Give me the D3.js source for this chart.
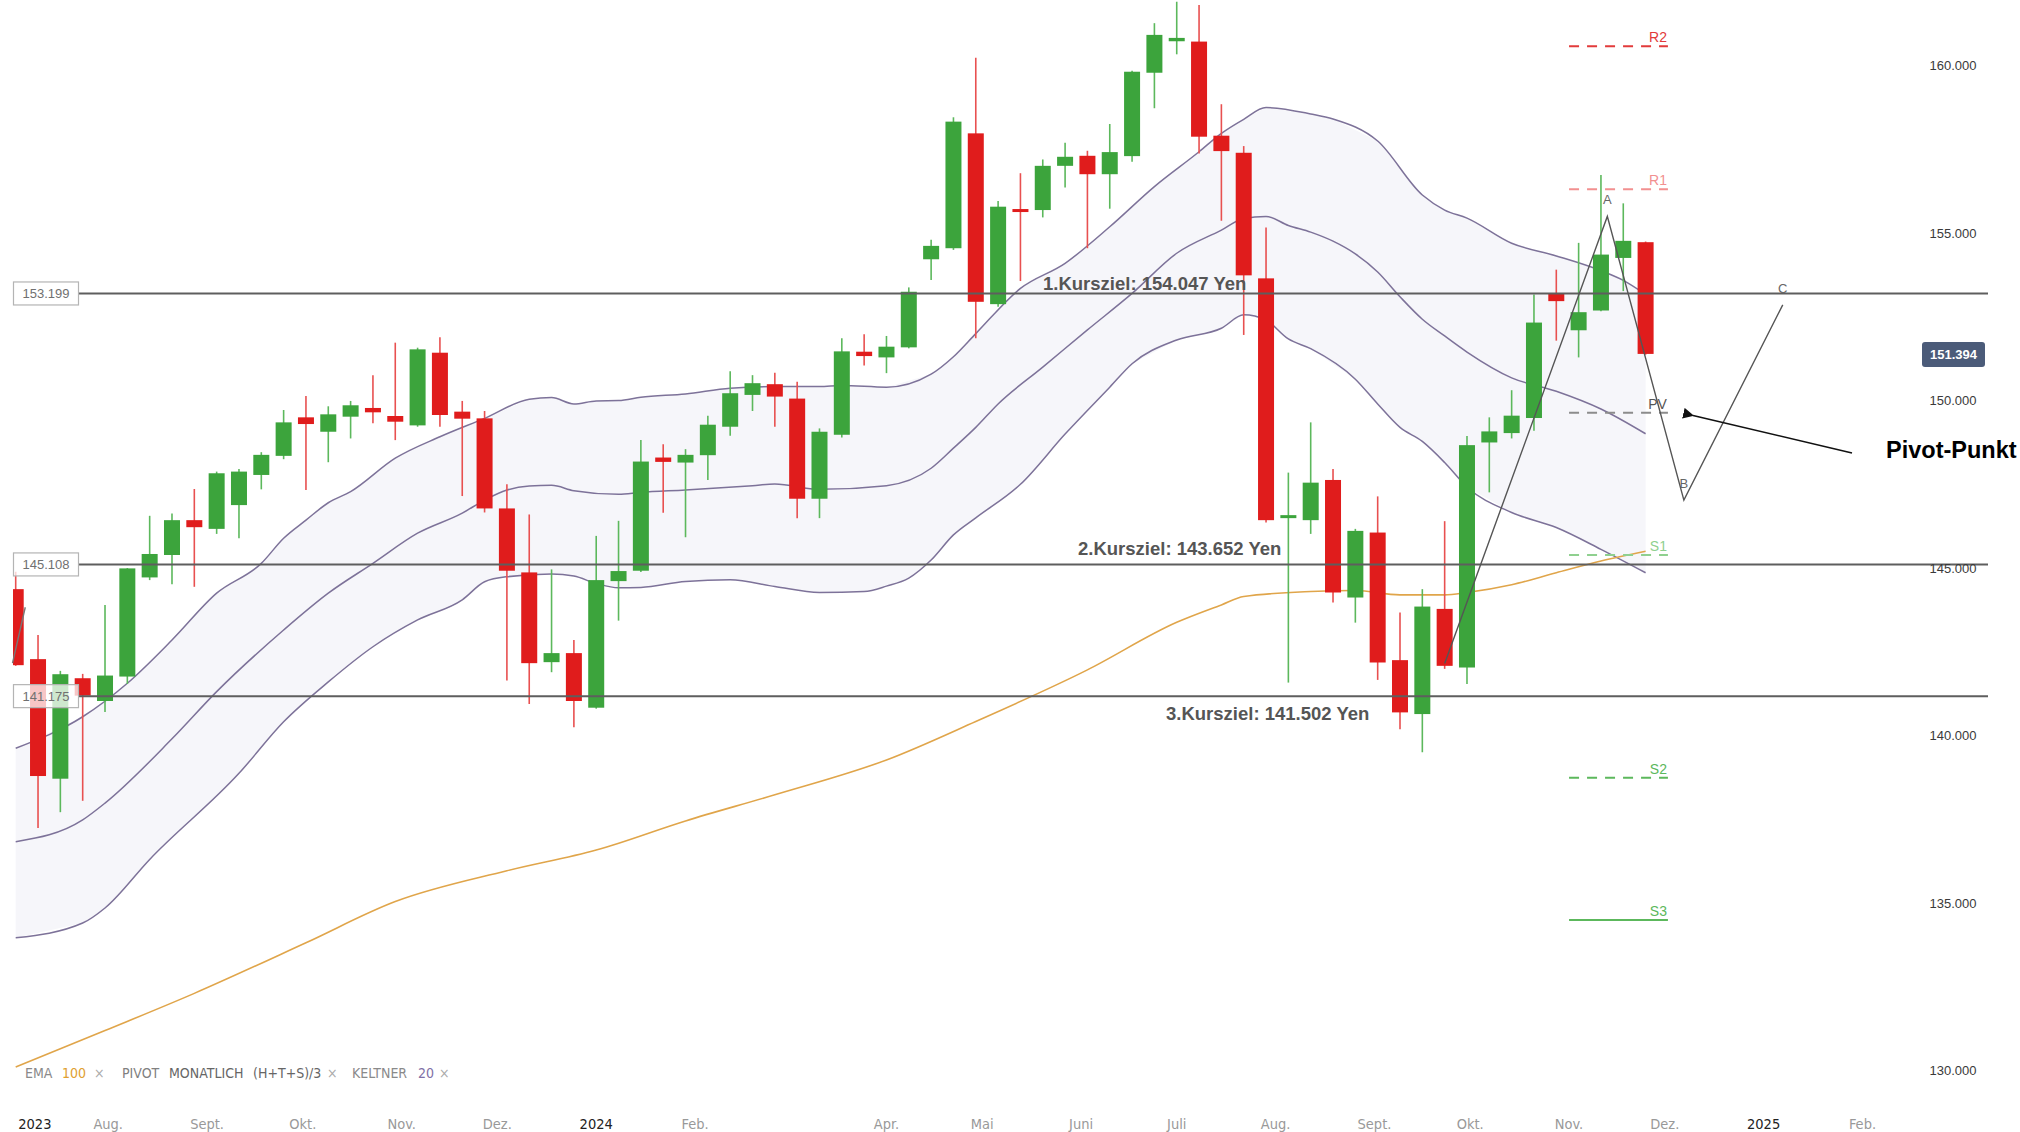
<!DOCTYPE html>
<html>
<head>
<meta charset="utf-8">
<script src="https://cdn.jsdelivr.net/npm/d3@7"></script>
<style>
  body { margin: 0; background: #fff; }
  svg { display: block; font-family: "Liberation Sans", Arial, sans-serif; }
  .narrow { font-family: "Liberation Sans Narrow", "DejaVu Sans Condensed", "Liberation Sans", sans-serif; }
</style>
</head>
<body>
<div id="chart"></div>
<script>
const width = 2020;
const height = 1132;

// Weekly USD/JPY candles, one per Monday from 3 Jul 2023 to 25 Nov 2024
const firstWeek = "2023-07-03";
const lastWeek = "2024-11-25";
const opens = [144.37,142.28,138.71,141.71,141.03,141.76,144.72,145.39,146.43,146.17,
  146.88,147.78,148.35,149.50,149.07,149.52,149.78,149.54,149.26,151.43,
  149.67,149.47,146.78,144.87,142.19,142.46,140.83,144.61,144.92,148.30,
  148.15,148.37,149.22,150.17,150.49,150.06,147.07,148.98,151.46,151.29,
  151.59,154.22,154.55,157.98,152.88,155.72,155.69,157.01,157.31,156.76,
  157.30,159.79,160.73,160.72,157.91,157.40,153.65,146.50,146.43,147.63,
  144.12,146.06,142.25,140.64,143.78,142.03,148.75,149.03,149.48,153.21,
  152.10,152.69,154.26,154.73];
const highs = [144.89,143.00,141.93,141.84,143.90,145.00,146.56,146.63,147.36,147.88,
  147.96,148.46,149.72,150.14,149.83,149.99,150.76,151.73,151.58,151.89,
  149.99,149.69,147.50,146.60,144.96,142.85,145.96,146.41,148.82,148.70,
  148.55,149.55,150.88,150.76,150.83,150.56,149.17,151.86,151.98,151.93,
  153.38,154.80,158.46,160.24,155.96,156.79,157.20,157.70,157.46,158.26,
  159.85,161.27,161.91,161.81,158.85,157.60,155.17,147.85,149.35,147.96,
  146.17,147.14,143.67,144.37,146.40,148.94,149.50,150.31,153.17,153.91,
  154.71,156.74,155.89,154.75];
const lows = [142.08,137.24,137.71,138.05,140.70,141.54,144.64,144.52,144.44,146.02,
  145.89,147.35,148.25,147.33,148.16,148.87,149.32,148.82,149.22,149.22,
  147.15,146.66,141.64,140.94,141.89,140.25,140.80,143.43,144.88,146.65,
  145.92,147.63,148.95,149.69,149.22,146.49,146.49,148.90,151.05,150.82,
  151.56,153.60,154.50,151.86,152.80,153.57,155.47,156.36,154.55,155.73,
  157.13,158.73,160.34,157.38,155.37,151.96,146.36,141.58,146.02,143.97,
  143.37,141.66,140.19,139.50,141.99,141.54,147.26,148.87,149.10,151.79,
  151.29,152.67,153.27,151.37];
const closes = [142.10,138.79,141.83,141.19,141.79,144.99,145.42,146.43,146.22,147.83,
  147.88,148.38,149.35,149.30,149.59,149.86,149.65,149.37,151.53,149.57,
  149.46,146.78,144.92,142.16,142.46,141.03,144.64,144.91,148.18,148.17,
  148.38,149.28,150.22,150.52,150.12,147.07,149.07,151.47,151.33,151.61,
  153.25,154.62,158.33,152.95,155.79,155.65,157.01,157.28,156.76,157.42,
  159.82,160.92,160.83,157.88,157.45,153.74,146.43,146.58,147.55,144.27,
  146.11,142.18,140.69,143.85,142.08,148.67,149.08,149.55,152.33,152.97,
  152.64,154.36,154.77,151.394];

// Keltner 20 channel as [week index, price]
const keltnerUpper = [[0,139.62],[3,140.56],[5,141.56],[7,142.85],[9,144.25],[11,145.14],[12,145.89],
  [13,146.43],[14,146.95],[15,147.28],[17,148.28],[19,148.92],[21,149.47],[23,150.04],[24,150.09],
  [25,149.90],[26,149.99],[27,150.00],[28,150.10],[30,150.20],[32,150.37],[34,150.42],[36,150.42],
  [37,150.45],[39,150.40],[41,150.79],[42,151.31],[43,152.0],[45,153.35],[47,154.10],[49,155.19],
  [51,156.39],[53,157.43],[54,157.98],[55,158.4],[56,158.75],[58,158.56],[59,158.41],[61,157.75],
  [63,156.14],[64,155.69],[65,155.45],[67,154.70],[69,154.32],[71,153.88],[72,153.59],[73,153.17]];
const keltnerMiddle = [[0,136.83],[3,137.48],[4,137.98],[7,139.9],[9,141.31],[12,143.15],[14,144.25],
  [16,145.14],[18,146.04],[20,146.64],[21,147.03],[22,147.33],[23,147.45],[24,147.47],[25,147.31],
  [27,147.20],[28,147.26],[30,147.33],[33,147.46],[34,147.51],[36,147.35],[39,147.46],[41,147.98],
  [42,148.58],[43,149.2],[44,149.9],[46,151.0],[48,152.11],[50,153.2],[52,154.40],[54,155.09],
  [55,155.44],[56,155.50],[57,155.23],[58,155.03],[59,154.76],[60,154.38],[61,153.84],[62,153.1],
  [63,152.43],[64,151.93],[65,151.45],[67,150.68],[69,150.28],[71,149.75],[73,149.01]];
const keltnerLower = [[0,133.96],[3,134.4],[4,134.85],[6,136.3],[10,138.87],[12,140.41],[14,141.6],
  [16,142.65],[18,143.45],[20,144.05],[21,144.59],[22,144.74],[24,144.82],[25,144.76],[26,144.54],
  [27,144.41],[28,144.42],[30,144.6],[32,144.65],[34,144.45],[36,144.27],[38,144.3],[39,144.46],
  [40,144.7],[41,145.24],[42,145.99],[43,146.5],[45,147.5],[47,149.0],[49,150.4],[50,151.1],
  [52,151.81],[54,152.16],[55,152.56],[56,152.4],[57,151.84],[58,151.55],[60,150.64],[61,149.9],
  [62,149.2],[63,148.78],[64,148.15],[65,147.42],[67,146.66],[69,146.21],[71,145.56],[73,144.86]];

// EMA 100
const ema100 = [[0,130.1],[4,131.19],[8,132.3],[13,133.81],[17,135.04],[22,135.96],[26,136.58],
  [30,137.45],[34,138.23],[39,139.27],[43,140.42],[48,141.96],[52,143.38],[54,143.9],[55,144.15],
  [58,144.3],[60,144.33],[62,144.2],[64,144.2],[65,144.27],[67,144.5],[69,144.86],[71,145.21],[73,145.5]];

// Monthly pivot levels (November 2024)
const pivotStart = "2024-11-01";
const pivotEnd = "2024-12-02";
const pivots = [
  {name: "R2", value: 160.58, color: "#e23b3b", dash: "10,8"},
  {name: "R1", value: 156.31, color: "#f29090", dash: "10,8"},
  {name: "PV", value: 149.64, color: "#8c8c8c", dash: "10,8"},
  {name: "S1", value: 145.39, color: "#8fd08f", dash: "10,8"},
  {name: "S2", value: 138.74, color: "#5cb85c", dash: "10,8"},
  {name: "S3", value: 134.49, color: "#5cb85c", dash: null}
];

// Horizontal support / target lines
const levels = [153.199, 145.108, 141.175];
const targets = [
  {label: "1.Kursziel: 154.047 Yen", level: 153.199},
  {label: "2.Kursziel: 143.652 Yen", level: 145.108},
  {label: "3.Kursziel: 141.502 Yen", level: 141.175}
];

// ABC projection drawn on the chart
const abcPoints = [
  {date: "2024-09-23", price: 142.15, label: ""},
  {date: "2024-11-13", price: 155.50, label: "A"},
  {date: "2024-12-07", price: 147.03, label: "B"},
  {date: "2025-01-07", price: 152.86, label: "C"}
];
const leftStub = [{date: "2023-07-02", price: 142.16}, {date: "2023-07-06", price: 143.83}];

const lastPrice = 151.394;
const priceTicks = [130, 135, 140, 145, 150, 155, 160];
const timeLabels = [
  {date: "2023-07-09", text: "2023", year: true},
  {date: "2023-08-01", text: "Aug."},
  {date: "2023-09-01", text: "Sept."},
  {date: "2023-10-01", text: "Okt."},
  {date: "2023-11-01", text: "Nov."},
  {date: "2023-12-01", text: "Dez."},
  {date: "2024-01-01", text: "2024", year: true},
  {date: "2024-02-01", text: "Feb."},
  {date: "2024-04-01", text: "Apr."},
  {date: "2024-05-01", text: "Mai"},
  {date: "2024-06-01", text: "Juni"},
  {date: "2024-07-01", text: "Juli"},
  {date: "2024-08-01", text: "Aug."},
  {date: "2024-09-01", text: "Sept."},
  {date: "2024-10-01", text: "Okt."},
  {date: "2024-11-01", text: "Nov."},
  {date: "2024-12-01", text: "Dez."},
  {date: "2025-01-01", text: "2025", year: true},
  {date: "2025-02-01", text: "Feb."}
];

const parse = d3.utcParse("%Y-%m-%d");
const weeks = d3.utcMonday.range(parse(firstWeek), d3.utcDay.offset(parse(lastWeek), 1));
const candles = weeks.map((d, i) => ({date: d, o: opens[i], h: highs[i], l: lows[i], c: closes[i]}));

// Scales
const x = d3.scaleUtc()
  .domain([parse("2023-08-01"), parse("2025-02-01")])
  .range([108.2, 1862.5]);
const y = d3.scaleLinear()
  .domain([130, 160])
  .range([1070.4, 65.7]);

const svg = d3.select("#chart").append("svg")
  .attr("width", width)
  .attr("height", height);

svg.append("defs").append("clipPath").attr("id", "plot")
  .append("rect").attr("x", 13).attr("y", 0).attr("width", 1977).attr("height", 1090);
svg.select("defs").append("marker")
  .attr("id", "arrow").attr("viewBox", "0 0 10 10")
  .attr("refX", 1).attr("refY", 5)
  .attr("markerWidth", 11).attr("markerHeight", 11)
  .attr("markerUnits", "userSpaceOnUse")
  .attr("orient", "auto-start-reverse")
  .append("path").attr("d", "M0,5 L10,0 L10,10 Z").attr("fill", "#111");

const plot = svg.append("g").attr("clip-path", "url(#plot)");

// Keltner channel
const kx = d => x(weeks[d[0]]);
const ky = d => y(d[1]);
const kLine = d3.line().x(kx).y(ky).curve(d3.curveMonotoneX);
const band = keltnerUpper.concat(keltnerLower.slice().reverse());
plot.append("path")
  .attr("d", d3.line().x(kx).y(ky)(band) + "Z")
  .attr("fill", "#f6f6fa");
[keltnerUpper, keltnerMiddle, keltnerLower].forEach(series => {
  plot.append("path")
    .attr("d", kLine(series))
    .attr("fill", "none")
    .attr("stroke", "#7d7299")
    .attr("stroke-width", 1.5);
});

// EMA 100
plot.append("path")
  .attr("d", kLine(ema100))
  .attr("fill", "none")
  .attr("stroke", "#e0a54a")
  .attr("stroke-width", 1.6);

// Horizontal levels
levels.forEach(v => {
  svg.append("line")
    .attr("x1", 78).attr("x2", 1988)
    .attr("y1", y(v)).attr("y2", y(v))
    .attr("stroke", "#5e5e5e")
    .attr("stroke-width", 2);
});

// Candles
const green = "#3ca43c", red = "#e01c1c";
const bodyW = 16;
const cg = plot.append("g");
cg.selectAll("line.wick")
  .data(candles)
  .enter().append("line")
  .attr("class", "wick")
  .attr("x1", d => x(d.date)).attr("x2", d => x(d.date))
  .attr("y1", d => y(d.h)).attr("y2", d => y(d.l))
  .attr("stroke", d => d.c >= d.o ? "#5cb85c" : "#e85050")
  .attr("stroke-width", 1.6);
cg.selectAll("rect.body")
  .data(candles)
  .enter().append("rect")
  .attr("class", "body")
  .attr("x", d => x(d.date) - bodyW / 2)
  .attr("width", bodyW)
  .attr("y", d => y(Math.max(d.o, d.c)))
  .attr("height", d => Math.max(3, Math.abs(y(d.o) - y(d.c))))
  .attr("fill", d => d.c >= d.o ? green : red);

// Pivot lines
const pg = svg.append("g");
pivots.forEach(p => {
  pg.append("line")
    .attr("x1", x(parse(pivotStart))).attr("x2", x(parse(pivotEnd)))
    .attr("y1", y(p.value)).attr("y2", y(p.value))
    .attr("stroke", p.color)
    .attr("stroke-width", 2)
    .attr("stroke-dasharray", p.dash);
  pg.append("text")
    .attr("x", x(parse(pivotEnd)) - 1)
    .attr("y", y(p.value) - 4)
    .attr("text-anchor", "end")
    .style("font-size", "14px")
    .attr("fill", p.name === "PV" ? "#555" : p.color)
    .text(p.name);
});

// ABC projection
const abcLine = d3.line().x(d => x(parse(d.date))).y(d => y(d.price));
svg.append("path")
  .attr("d", abcLine(abcPoints))
  .attr("fill", "none")
  .attr("stroke", "#555")
  .attr("stroke-width", 1.4);
svg.append("path")
  .attr("d", abcLine(leftStub))
  .attr("fill", "none")
  .attr("stroke", "#777")
  .attr("stroke-width", 1.4);
svg.selectAll("text.abc")
  .data(abcPoints.filter(d => d.label))
  .enter().append("text")
  .attr("class", "abc")
  .attr("x", d => x(parse(d.date)))
  .attr("y", d => y(d.price) - 12)
  .attr("text-anchor", "middle")
  .style("font-size", "13px")
  .attr("fill", "#666")
  .text(d => d.label);

// Kursziel labels
const tOffsets = [-3, -9, 24];
const tStarts = [1043, 1078, 1166];
svg.selectAll("text.target")
  .data(targets)
  .enter().append("text")
  .attr("class", "target")
  .attr("x", (d, i) => tStarts[i])
  .attr("y", (d, i) => y(d.level) + tOffsets[i])
  .style("font-size", "18.5px")
  .style("font-weight", "bold")
  .attr("fill", "#555")
  .text(d => d.label);

// Level boxes on the left
levels.forEach(v => {
  svg.append("rect")
    .attr("x", 13.5).attr("y", y(v) - 11.5)
    .attr("width", 65).attr("height", 23)
    .attr("fill", "#fff").attr("fill-opacity", 0.75)
    .attr("stroke", "#b4b4b4").attr("stroke-width", 1.2);
  svg.append("text")
    .attr("x", 46).attr("y", y(v)).attr("dy", "0.36em")
    .attr("text-anchor", "middle")
    .style("font-size", "13px")
    .attr("fill", "#707070")
    .text(d3.format(".3f")(v));
});

// Right price axis
svg.selectAll("text.ptick")
  .data(priceTicks)
  .enter().append("text")
  .attr("class", "ptick")
  .attr("x", 1953).attr("y", d => y(d)).attr("dy", "0.35em")
  .attr("text-anchor", "middle")
  .style("font-size", "13px")
  .attr("fill", "#3a3a3a")
  .text(d => d3.format(".3f")(d));

svg.append("rect")
  .attr("x", 1922).attr("y", y(lastPrice) - 12)
  .attr("width", 63).attr("height", 25).attr("rx", 3)
  .attr("fill", "#4b5b79");
svg.append("text")
  .attr("x", 1953.5).attr("y", y(lastPrice) + 0.5).attr("dy", "0.36em")
  .attr("text-anchor", "middle")
  .style("font-size", "13px")
  .style("font-weight", "bold")
  .attr("fill", "#fff")
  .text(d3.format(".3f")(lastPrice));

// Pivot-Punkt annotation
svg.append("line")
  .attr("x1", 1852).attr("y1", 453)
  .attr("x2", 1693).attr("y2", 415.5)
  .attr("stroke", "#111").attr("stroke-width", 1.6)
  .attr("marker-end", "url(#arrow)");
svg.append("text")
  .attr("x", 1886).attr("y", 458)
  .style("font-size", "23.5px")
  .style("font-weight", "bold")
  .attr("fill", "#000")
  .text("Pivot-Punkt");

// Time axis
svg.selectAll("text.tick")
  .data(timeLabels)
  .enter().append("text")
  .attr("class", "tick narrow")
  .attr("x", d => x(parse(d.date)))
  .attr("y", 1129)
  .attr("text-anchor", "middle")
  .style("font-size", "14.5px")
  .attr("fill", d => d.year ? "#222" : "#999")
  .text(d => d.text);

// Indicator legend
const legendItems = [
  {x: 25, text: "EMA", color: "#8a8a8a"},
  {x: 62, text: "100", color: "#e0a030"},
  {x: 94, text: "×", color: "#aaa"},
  {x: 122, text: "PIVOT", color: "#808080"},
  {x: 169, text: "MONATLICH", color: "#666"},
  {x: 253, text: "(H+T+S)/3", color: "#666"},
  {x: 327, text: "×", color: "#aaa"},
  {x: 352, text: "KELTNER", color: "#8a8a8a"},
  {x: 418, text: "20", color: "#7f70a6"},
  {x: 439, text: "×", color: "#aaa"}
];
svg.selectAll("text.legend")
  .data(legendItems)
  .enter().append("text")
  .attr("class", "legend narrow")
  .attr("x", d => d.x)
  .attr("y", 1078)
  .style("font-size", "14px")
  .attr("fill", d => d.color)
  .text(d => d.text);
</script>
</body>
</html>
